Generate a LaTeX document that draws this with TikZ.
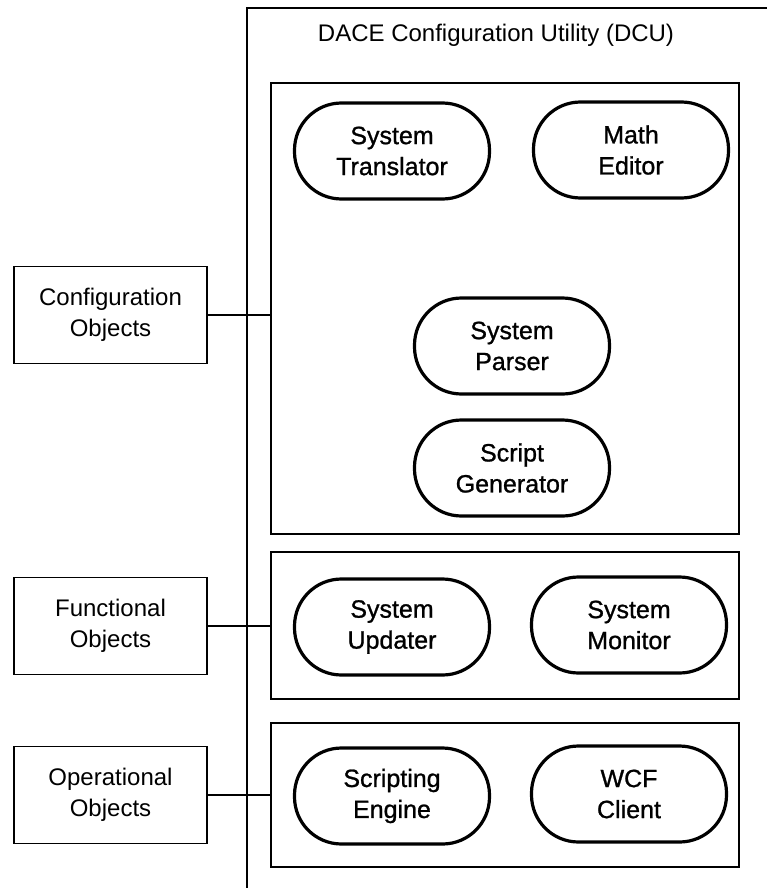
\documentclass[tikz,border=0pt]{standalone}
\usepackage{fontspec}
\setmainfont{Liberation Sans}
\newfontfamily\pillfont[FakeBold=1.0]{Liberation Sans}
\tikzset{
  pill/.style={draw, line width=3.2pt, rounded corners=47pt, minimum width=195pt, minimum height=96pt, align=center, font=\pillfont\fontsize{25}{31}\selectfont, inner sep=0pt},
  objbox/.style={draw, line width=1.4pt, minimum width=193pt, minimum height=97pt, align=center, font=\fontsize{24}{31}\selectfont, inner sep=0pt, outer sep=0pt},
  panel/.style={draw, line width=1.8pt, minimum width=468pt, inner sep=0pt, outer sep=0pt}
}
\begin{document}
\begin{tikzpicture}[x=1pt, y=-1pt]
  \useasboundingbox (0,0) rectangle (767,888);
  % the DCU frame, cut off at the right and below
  \draw[line width=1.3pt] (767,8) -- (247,8) -- (247,888);
  \node[font=\fontsize{24}{28}\selectfont] (dcu) at (496,35) {DACE Configuration Utility (DCU)};
  \node[panel, minimum height=451pt] (cfgpanel) at (505,308.5) {};
  \node[panel, minimum height=147pt] (funpanel) at (505,625.5) {};
  \node[panel, minimum height=144pt] (oppanel) at (505,795) {};
  \node[pill] (trans) at (392,151) {System\\Translator};
  \node[pill] (math) at (631,150) {Math\\Editor};
  \node[pill] (parser) at (512,346) {System\\Parser};
  \node[pill] (gen) at (512,468) {Script\\Generator};
  \node[pill] (upd) at (392,627) {System\\Updater};
  \node[pill] (mon) at (629,625) {System\\Monitor};
  \node[pill] (eng) at (392,796) {Scripting\\Engine};
  \node[pill] (wcf) at (629,794) {WCF\\Client};
  \node[objbox] (conf) at (110.5,315) {Configuration\\Objects};
  \node[objbox] (func) at (110.5,626) {Functional\\Objects};
  \node[objbox] (oper) at (110.5,795) {Operational\\Objects};
  \draw[line width=1.4pt] (conf.east) -- (conf.east -| cfgpanel.west);
  \draw[line width=1.4pt] (func.east) -- (func.east -| funpanel.west);
  \draw[line width=1.4pt] (oper.east) -- (oper.east -| oppanel.west);
\end{tikzpicture}
\end{document}
